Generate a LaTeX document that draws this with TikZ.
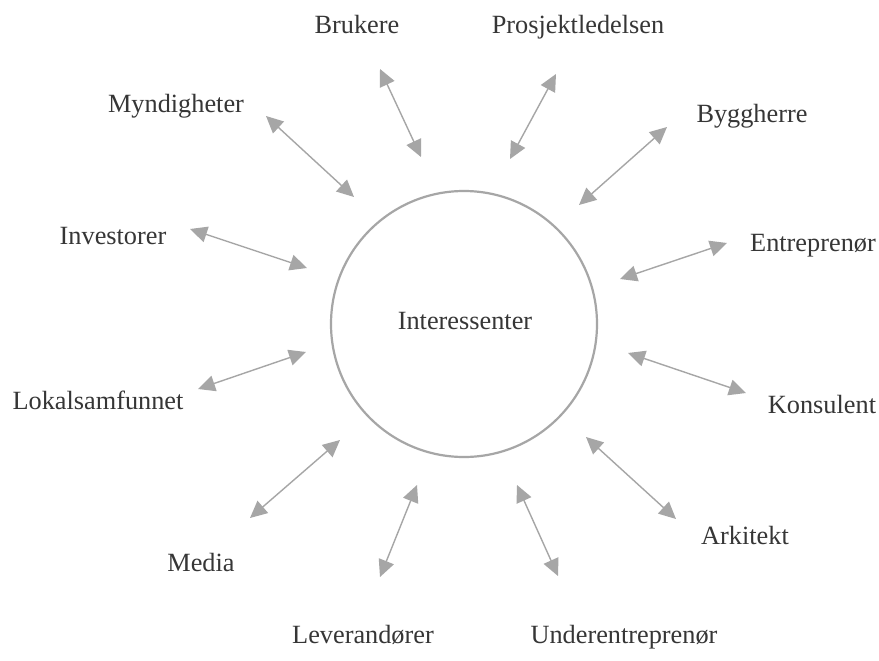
\documentclass[tikz,border=0pt]{standalone}
\usepackage{fontspec}
\setmainfont{Liberation Serif}
\usetikzlibrary{arrows.meta}
\definecolor{linegray}{HTML}{A6A6A6}
\definecolor{textgray}{HTML}{363636}
\tikzset{
  label/.style={anchor=base, inner sep=0pt, text=textgray, font=\fontsize{26.3}{30}\selectfont},
  link/.style={draw=linegray, line width=1.4pt,
    {Triangle[length=17pt,width=16pt]}-{Triangle[length=17pt,width=16pt]}},
  hub/.style={circle, draw=linegray, line width=2.2pt, minimum size=266pt, inner sep=0pt}
}
\begin{document}
\begin{tikzpicture}[x=1pt,y=-1pt]
  \useasboundingbox (0,0) rectangle (879,661);
  \fill[white] (0,0) rectangle (879,661);

  % central node
  \node[hub] (hub) at (464,324) {};
  \node[label] (center) at (465,329) {Interessenter};

  % stakeholder labels
  \node[label] (brukere) at (357,34) {Brukere};
  \node[label] (prosjekt) at (578,34) {Prosjektledelsen};
  \node[label] (bygg) at (752,123) {Byggherre};
  \node[label] (entr) at (813,251) {Entreprenør};
  \node[label] (kons) at (822,413) {Konsulent};
  \node[label] (ark) at (745,544) {Arkitekt};
  \node[label] (under) at (624,643) {Underentreprenør};
  \node[label] (lev) at (363,643) {Leverandører};
  \node[label] (media) at (201,571) {Media};
  \node[label] (lokal) at (98,409) {Lokalsamfunnet};
  \node[label] (inv) at (113,244) {Investorer};
  \node[label] (mynd) at (176,113) {Myndigheter};

  % arrow end points
  \coordinate (b1) at (380,69);   \coordinate (b2) at (421,157);
  \coordinate (p1) at (556,74);   \coordinate (p2) at (510,159);
  \coordinate (g1) at (667,127);  \coordinate (g2) at (579,205);
  \coordinate (e1) at (727,243);  \coordinate (e2) at (620,279);
  \coordinate (k1) at (628,353);  \coordinate (k2) at (746,393);
  \coordinate (a1) at (586,437);  \coordinate (a2) at (676,519);
  \coordinate (u1) at (517,485);  \coordinate (u2) at (558,576);
  \coordinate (l1) at (417,485);  \coordinate (l2) at (380,577);
  \coordinate (m1) at (340,440);  \coordinate (m2) at (250,518);
  \coordinate (s1) at (306,352);  \coordinate (s2) at (198,389);
  \coordinate (i1) at (190,229);  \coordinate (i2) at (307,268);
  \coordinate (y1) at (266,116);  \coordinate (y2) at (354,197);

  % two-way arrows
  \draw[link] (b1) -- (b2);
  \draw[link] (p1) -- (p2);
  \draw[link] (g1) -- (g2);
  \draw[link] (e1) -- (e2);
  \draw[link] (k1) -- (k2);
  \draw[link] (a1) -- (a2);
  \draw[link] (u1) -- (u2);
  \draw[link] (l1) -- (l2);
  \draw[link] (m1) -- (m2);
  \draw[link] (s1) -- (s2);
  \draw[link] (i1) -- (i2);
  \draw[link] (y1) -- (y2);
\end{tikzpicture}
\end{document}
